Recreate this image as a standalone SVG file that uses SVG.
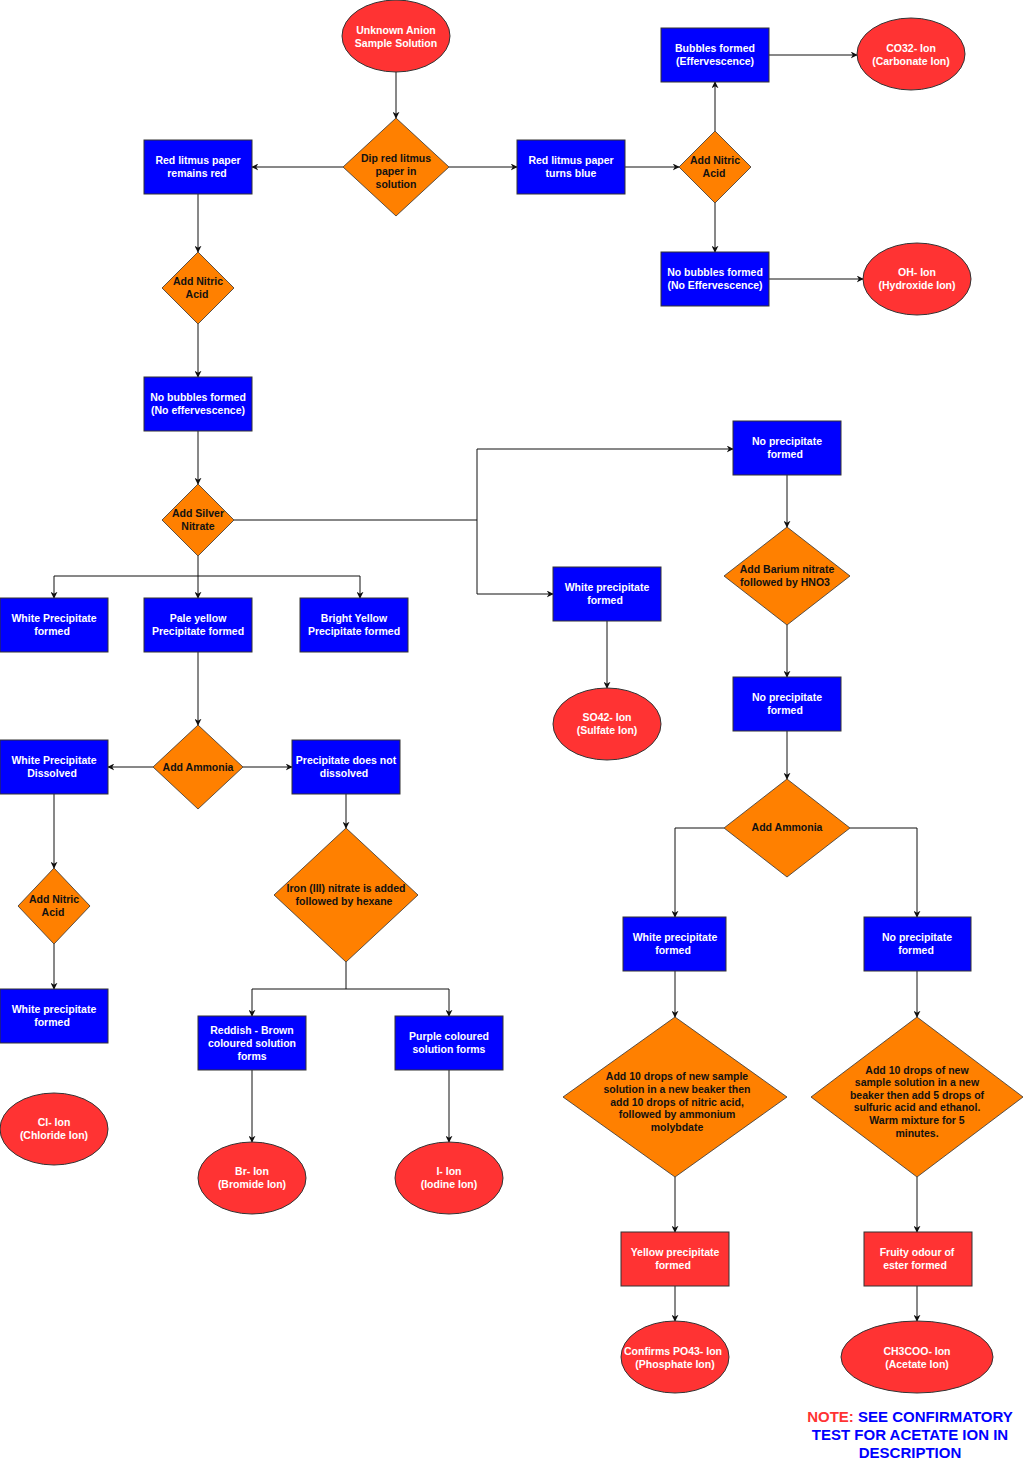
<svg xmlns="http://www.w3.org/2000/svg" width="1024" height="1461" viewBox="0 0 1024 1461">
<style>
.b{fill:#0000FF;stroke:#333;stroke-width:1}
.o{fill:#FF8000;stroke:#333;stroke-width:0.8}
.r{fill:#FF3333;stroke:#333;stroke-width:1}
text{font-family:"Liberation Sans",Arial,sans-serif;font-weight:bold;font-size:10.5px;text-anchor:middle}
.w{fill:#fff}.k{fill:#111}
.c path{fill:none;stroke:#111;stroke-width:1;marker-end:url(#a)}
.c path.n{marker-end:none}
</style>
<defs><marker id="a" viewBox="0 0 10 10" refX="9" refY="5" markerWidth="7" markerHeight="7" orient="auto"><path d="M0,0 L10,5 L0,10 L3,5 z" fill="#111"/></marker></defs>
<rect width="1024" height="1461" fill="#fff"/>
<g class="c">
<path d="M396,72 V118"/>
<path d="M343,167 H252"/>
<path d="M449,167 H517"/>
<path d="M625,167 H679"/>
<path d="M715,131 V82"/>
<path d="M769,55 H857"/>
<path d="M715,203 V252"/>
<path d="M769,279 H863"/>
<path d="M198,194 V252"/>
<path d="M198,324 V377"/>
<path d="M198,431 V484"/>
<path class="n" d="M234,520 H477"/>
<path d="M477,520 V449 H733"/>
<path d="M477,520 V594 H553"/>
<path d="M607,621 V688"/>
<path d="M787,475 V527"/>
<path d="M787,625 V677"/>
<path d="M787,731 V779"/>
<path d="M724,828 H675 V917"/>
<path d="M850,828 H917 V917"/>
<path d="M675,971 V1017"/>
<path d="M917,971 V1017"/>
<path d="M675,1177 V1232"/>
<path d="M917,1177 V1232"/>
<path d="M675,1286 V1321"/>
<path d="M917,1286 V1321"/>
<path d="M198,556 V598"/>
<path d="M198,576 H54 V598"/>
<path d="M198,576 H360 V598"/>
<path d="M198,652 L198,725"/>
<path d="M153,767 H108"/>
<path d="M243,767 H292"/>
<path d="M54,794 V868"/>
<path d="M54,944 V989"/>
<path d="M346,794 V828"/>
<path d="M346,962 V989 H252 V1016"/>
<path d="M346,989 H449 V1016"/>
<path d="M252,1070 V1142"/>
<path d="M449,1070 V1142"/>
</g>
<g id="unknown"><ellipse class="r" cx="396" cy="36" rx="54" ry="36"/><text class="w" x="396" y="34">Unknown Anion</text><text class="w" x="396" y="47">Sample Solution</text></g>
<g id="dip"><path class="o" d="M396,118 L449,167 L396,216 L343,167Z"/><text class="k" x="396" y="162">Dip red litmus</text><text class="k" x="396" y="175">paper in</text><text class="k" x="396" y="188">solution</text></g>
<g id="remainsred"><rect class="b" x="144" y="140" width="108" height="54"/><text class="w" x="198" y="164">Red litmus paper</text><text class="w" x="197" y="177">remains red</text></g>
<g id="turnsblue"><rect class="b" x="517" y="140" width="108" height="54"/><text class="w" x="571" y="164">Red litmus paper</text><text class="w" x="571" y="177">turns blue</text></g>
<g id="nitric1"><path class="o" d="M715,131 L751,167 L715,203 L679,167Z"/><text class="k" x="715" y="164">Add Nitric</text><text class="k" x="714" y="177">Acid</text></g>
<g id="bubbles"><rect class="b" x="661" y="28" width="108" height="54"/><text class="w" x="715" y="52">Bubbles formed</text><text class="w" x="715" y="65">(Effervescence)</text></g>
<g id="co3"><ellipse class="r" cx="911" cy="54" rx="54" ry="36"/><text class="w" x="911" y="52">CO32- Ion</text><text class="w" x="911" y="65">(Carbonate Ion)</text></g>
<g id="nobub1"><rect class="b" x="661" y="252" width="108" height="54"/><text class="w" x="715" y="276">No bubbles formed</text><text class="w" x="715" y="289">(No Effervescence)</text></g>
<g id="oh"><ellipse class="r" cx="917" cy="279" rx="54" ry="36"/><text class="w" x="917" y="276">OH- Ion</text><text class="w" x="917" y="289">(Hydroxide Ion)</text></g>
<g id="nitric2"><path class="o" d="M198,252 L234,288 L198,324 L162,288Z"/><text class="k" x="198" y="285">Add Nitric</text><text class="k" x="197" y="298">Acid</text></g>
<g id="nobub2"><rect class="b" x="144" y="377" width="108" height="54"/><text class="w" x="198" y="401">No bubbles formed</text><text class="w" x="198" y="414">(No effervescence)</text></g>
<g id="silver"><path class="o" d="M198,484 L234,520 L198,556 L162,520Z"/><text class="k" x="198" y="517">Add Silver</text><text class="k" x="198" y="530">Nitrate</text></g>
<g id="noppt1"><rect class="b" x="733" y="421" width="108" height="54"/><text class="w" x="787" y="445">No precipitate</text><text class="w" x="785" y="458">formed</text></g>
<g id="whiteS"><rect class="b" x="553" y="567" width="108" height="54"/><text class="w" x="607" y="591">White precipitate</text><text class="w" x="605" y="604">formed</text></g>
<g id="so4"><ellipse class="r" cx="607" cy="724" rx="54" ry="36"/><text class="w" x="607" y="721">SO42- Ion</text><text class="w" x="607" y="734">(Sulfate Ion)</text></g>
<g id="barium"><path class="o" d="M787,527 L850,576 L787,625 L724,576Z"/><text class="k" x="787" y="573">Add Barium nitrate</text><text class="k" x="785" y="586">followed by HNO3</text></g>
<g id="noppt2"><rect class="b" x="733" y="677" width="108" height="54"/><text class="w" x="787" y="701">No precipitate</text><text class="w" x="785" y="714">formed</text></g>
<g id="ammonia2"><path class="o" d="M787,779 L850,828 L787,877 L724,828Z"/><text class="k" x="787" y="831">Add Ammonia</text></g>
<g id="whiteP"><rect class="b" x="623" y="917" width="103" height="54"/><text class="w" x="675" y="941">White precipitate</text><text class="w" x="673" y="954">formed</text></g>
<g id="noppt3"><rect class="b" x="864" y="917" width="107" height="54"/><text class="w" x="917" y="941">No precipitate</text><text class="w" x="916" y="954">formed</text></g>
<g id="phosdia"><path class="o" d="M675,1017 L787,1097 L675,1177 L563,1097Z"/><text class="k" x="677" y="1080">Add 10 drops of new sample</text><text class="k" x="677" y="1093">solution in a new beaker then</text><text class="k" x="677" y="1106">add 10 drops of nitric acid,</text><text class="k" x="677" y="1118">followed by ammonium</text><text class="k" x="677" y="1131">molybdate</text></g>
<g id="acetdia"><path class="o" d="M917,1017 L1023,1097 L917,1177 L811,1097Z"/><text class="k" x="917" y="1074">Add 10 drops of new</text><text class="k" x="917" y="1086">sample solution in a new</text><text class="k" x="917" y="1099">beaker then add 5 drops of</text><text class="k" x="917" y="1111">sulfuric acid and ethanol.</text><text class="k" x="917" y="1124">Warm mixture for 5</text><text class="k" x="917" y="1137">minutes.</text></g>
<g id="yellowppt"><rect class="r" x="621" y="1232" width="108" height="54"/><text class="w" x="675" y="1256">Yellow precipitate</text><text class="w" x="673" y="1269">formed</text></g>
<g id="fruity"><rect class="r" x="864" y="1232" width="108" height="54"/><text class="w" x="917" y="1256">Fruity odour of</text><text class="w" x="915" y="1269">ester formed</text></g>
<g id="po4"><ellipse class="r" cx="675" cy="1357" rx="54" ry="36"/><text class="w" x="673" y="1355">Confirms PO43- Ion</text><text class="w" x="675" y="1368">(Phosphate Ion)</text></g>
<g id="ch3coo"><ellipse class="r" cx="917" cy="1357" rx="76" ry="36"/><text class="w" x="917" y="1355">CH3COO- Ion</text><text class="w" x="917" y="1368">(Acetate Ion)</text></g>
<g id="note" style="font-size:15px"><text x="910" y="1422" style="font-size:15px"><tspan fill="#FF3333">NOTE: </tspan><tspan fill="#0000FF">SEE CONFIRMATORY</tspan></text><text x="910" y="1440" fill="#0000FF" style="font-size:15px">TEST FOR ACETATE ION IN</text><text x="910" y="1458" fill="#0000FF" style="font-size:15px">DESCRIPTION</text></g>
<g id="whiteF"><rect class="b" x="0" y="598" width="108" height="54"/><text class="w" x="54" y="622">White Precipitate</text><text class="w" x="52" y="635">formed</text></g>
<g id="paleyellow"><rect class="b" x="144" y="598" width="108" height="54"/><text class="w" x="198" y="622">Pale yellow</text><text class="w" x="198" y="635">Precipitate formed</text></g>
<g id="brightyellow"><rect class="b" x="300" y="598" width="108" height="54"/><text class="w" x="354" y="622">Bright Yellow</text><text class="w" x="354" y="635">Precipitate formed</text></g>
<g id="ammonia1"><path class="o" d="M198,725 L243,767 L198,809 L153,767Z"/><text class="k" x="198" y="771">Add Ammonia</text></g>
<g id="dissolved"><rect class="b" x="0" y="740" width="108" height="54"/><text class="w" x="54" y="764">White Precipitate</text><text class="w" x="52" y="777">Dissolved</text></g>
<g id="notdissolved"><rect class="b" x="292" y="740" width="108" height="54"/><text class="w" x="346" y="764">Precipitate does not</text><text class="w" x="344" y="777">dissolved</text></g>
<g id="nitric3"><path class="o" d="M54,868 L90,906 L54,944 L18,906Z"/><text class="k" x="54" y="903">Add Nitric</text><text class="k" x="53" y="916">Acid</text></g>
<g id="whiteF2"><rect class="b" x="0" y="989" width="108" height="54"/><text class="w" x="54" y="1013">White precipitate</text><text class="w" x="52" y="1026">formed</text></g>
<g id="cl"><ellipse class="r" cx="54" cy="1129" rx="54" ry="36"/><text class="w" x="54" y="1126">Cl- Ion</text><text class="w" x="54" y="1139">(Chloride Ion)</text></g>
<g id="iron"><path class="o" d="M346,828 L418,895 L346,962 L274,895Z"/><text class="k" x="346" y="892">Iron (III) nitrate is added</text><text class="k" x="344" y="905">followed by hexane</text></g>
<g id="reddish"><rect class="b" x="198" y="1016" width="108" height="54"/><text class="w" x="252" y="1034">Reddish - Brown</text><text class="w" x="252" y="1047">coloured solution</text><text class="w" x="252" y="1060">forms</text></g>
<g id="purple"><rect class="b" x="395" y="1016" width="108" height="54"/><text class="w" x="449" y="1040">Purple coloured</text><text class="w" x="449" y="1053">solution forms</text></g>
<g id="br"><ellipse class="r" cx="252" cy="1178" rx="54" ry="36"/><text class="w" x="252" y="1175">Br- Ion</text><text class="w" x="252" y="1188">(Bromide Ion)</text></g>
<g id="iodide"><ellipse class="r" cx="449" cy="1178" rx="54" ry="36"/><text class="w" x="449" y="1175">I- Ion</text><text class="w" x="449" y="1188">(Iodine Ion)</text></g>
</svg>
